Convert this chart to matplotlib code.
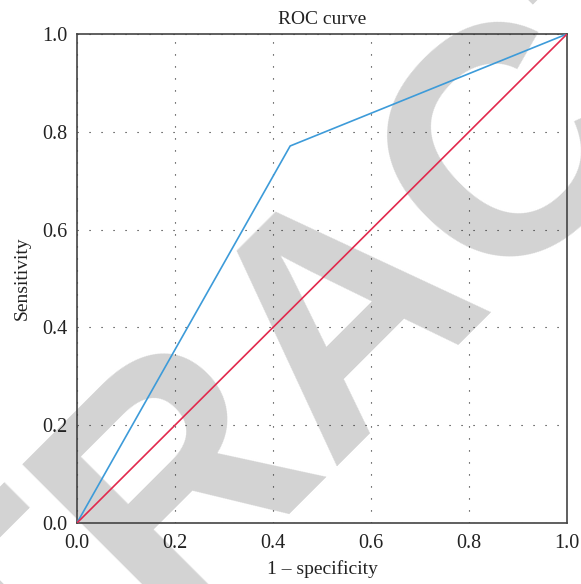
import matplotlib.pyplot as plt

# ROC points
fpr = [0.0, 0.435, 1.0]
tpr = [0.0, 0.771, 1.0]
ref_x = [0.0, 1.0]
ref_y = [0.0, 1.0]
ticks = [0.0, 0.2, 0.4, 0.6, 0.8, 1.0]
tick_labels = ['0.0', '0.2', '0.4', '0.6', '0.8', '1.0']

plt.rcParams['font.family'] = ['Liberation Serif', 'DejaVu Serif']

fig = plt.figure(figsize=(5.81, 5.84), dpi=100)
ax = fig.add_axes([0.1325, 0.1045, 0.8435, 0.8373])
ax.set_facecolor('none')

# retraction watermark behind everything
fig.text(0.704, 0.361, 'RETRACTED', fontsize=234, fontweight='bold',
         family='Liberation Sans', color='#d3d3d3', rotation=45,
         rotation_mode='anchor', ha='center', va='baseline', zorder=-10)

ax.plot(fpr, tpr, color='#3d9bd9', lw=1.2, zorder=3)
ax.plot(ref_x, ref_y, color='#e2294d', lw=1.2, zorder=3)

ax.set_xlim(0, 1)
ax.set_ylim(0, 1)
ax.set_xticks(ticks)
ax.set_xticklabels(tick_labels)
ax.set_yticks(ticks)
ax.set_yticklabels(tick_labels)
ax.tick_params(length=0, labelsize=14.5, colors='#222222')
ax.tick_params(axis='x', pad=8)
ax.tick_params(axis='y', pad=7)
ax.grid(True, color='#222222', linestyle=(0, (1, 9.8)), linewidth=0.8)
for s in ax.spines.values():
    s.set_color('#444444')
    s.set_linewidth(1.2)

ax.set_title('ROC curve', fontsize=14, color='#222222', pad=7)
ax.set_xlabel('1 \u2013 specificity', fontsize=14, color='#222222', labelpad=5)
ax.set_ylabel('Sensitivity', fontsize=14, color='#222222', labelpad=8)

fig.savefig('out.png', dpi=100)
